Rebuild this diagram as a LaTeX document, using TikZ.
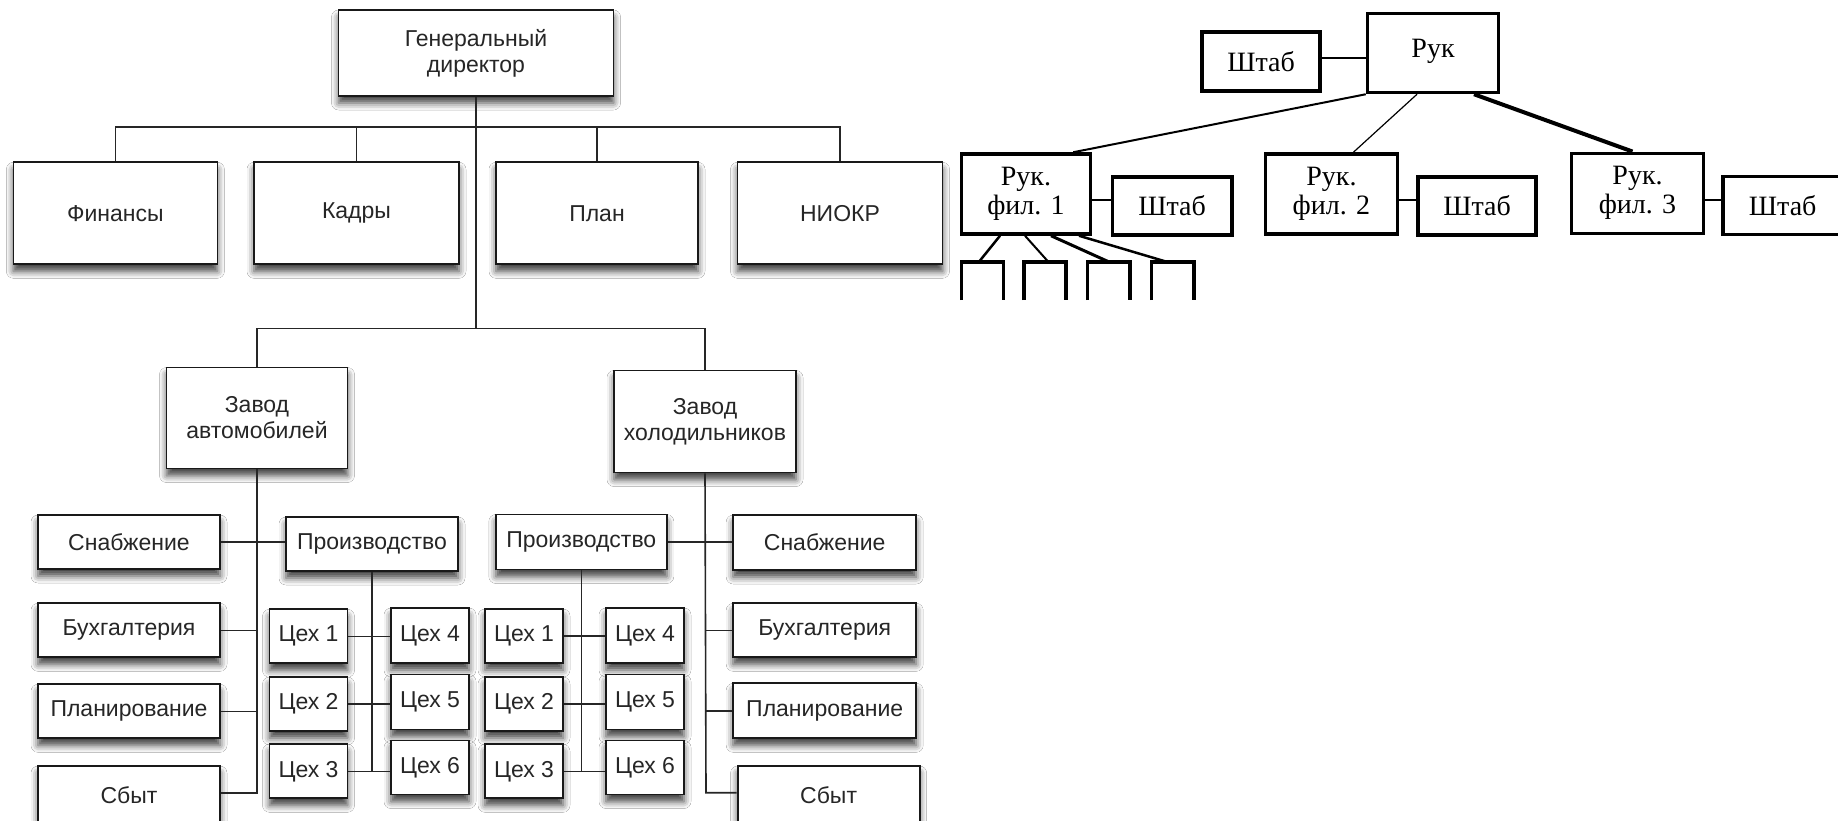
\documentclass[tikz,border=0pt]{standalone}
\usepackage{fontspec}
\newfontfamily\chartsans{Liberation Sans}
\newfontfamily\chartserif{Liberation Serif}
\usetikzlibrary{shadows.blur}
\begin{document}
\begin{tikzpicture}[x=1pt,y=-1pt,
  size/.style 2 args={minimum width=#1pt, minimum height=#2pt},
  unit/.style={draw=black!90, line width=1.8pt, fill=white, inner sep=0pt,
    align=center, text=black!85,
    font=\chartsans\fontsize{23}{26}\selectfont,
    blur shadow={shadow xshift=0pt, shadow yshift=-7pt,
      shadow blur radius=7pt, shadow opacity=75}},
  link/.style={draw=black!85, line width=1.6pt},
  rbox/.style={draw=black, line width=3.5pt, fill=white, inner sep=0pt,
    align=center, font=\chartserif\fontsize{28}{29}\selectfont},
  rlink/.style={draw=black, line width=2pt},
  cell/.style={inner sep=0pt, minimum width=42pt, minimum height=38pt},
]
\useasboundingbox (0,0) rectangle (1838,821);
\fill[white] (0,0) rectangle (1838,821);

% ---------- divisional structure ----------
\node[unit, size={275}{86}] (gd) at (476,53) {Генеральный\\директор};

\node[unit, size={204}{102}] (fin) at (115.4,213.3) {Финансы};
\node[unit, size={205}{102}] (kad) at (356.5,213.3) {Кадры};
\node[unit, size={202}{102}] (pln) at (597,213.3) {План};
\node[unit, size={205}{102}] (nio) at (840,213.3) {НИОКР};

\node[unit, size={181}{101}] (za) at (257,418) {Завод\\автомобилей};
\node[unit, size={182}{102}] (zh) at (705,421.5) {Завод\\холодильников};

% car plant
\node[unit, size={182}{54}] (snL) at (129,542) {Снабжение};
\node[unit, size={182}{54}] (buL) at (129,630.3) {Бухгалтерия};
\node[unit, size={182}{54}] (plL) at (129,711.3) {Планирование};
\node[unit, size={182}{59}] (sbL) at (129,795.5) {Сбыт};
\node[unit, size={172}{54}] (prL) at (372,544) {Производство};
\node[unit, size={78}{54}] (c1L) at (308.5,636.3) {Цех 1};
\node[unit, size={78}{54}] (c2L) at (308.5,704) {Цех 2};
\node[unit, size={78}{54}] (c3L) at (308.5,771.3) {Цех 3};
\node[unit, size={78}{55}] (c4L) at (430,635.5) {Цех 4};
\node[unit, size={78}{55}] (c5L) at (430,702) {Цех 5};
\node[unit, size={78}{54}] (c6L) at (430,767.5) {Цех 6};

% refrigerator plant
\node[unit, size={171}{55}] (prR) at (581.3,542) {Производство};
\node[unit, size={78}{54}] (c1R) at (524,636) {Цех 1};
\node[unit, size={78}{54}] (c2R) at (524,704) {Цех 2};
\node[unit, size={78}{54}] (c3R) at (524,771.3) {Цех 3};
\node[unit, size={78}{55}] (c4R) at (645,635.5) {Цех 4};
\node[unit, size={78}{55}] (c5R) at (645,702) {Цех 5};
\node[unit, size={78}{54}] (c6R) at (645,767.5) {Цех 6};
\node[unit, size={183}{55}] (snR) at (824.7,542.5) {Снабжение};
\node[unit, size={183}{54}] (buR) at (824.7,630.3) {Бухгалтерия};
\node[unit, size={183}{55}] (plR) at (824.7,710.8) {Планирование};
\node[unit, size={182}{59}] (sbR) at (828.6,795.5) {Сбыт};

% connectors
\coordinate (bar1) at (476,127.3);
\coordinate (bar2) at (476,328.3);
\coordinate (tL) at (257,792.7);
\coordinate (tR) at (706,792.7);
\draw[link] (gd.south) -- (bar2);
\draw[link] (fin.north) |- (bar1) -| (nio.north);
\draw[link] (kad.north) -- (kad.north |- bar1);
\draw[link] (pln.north) -- (pln.north |- bar1);
\draw[link] (za.north) |- (bar2) -| (zh.north);

\draw[link] (za.south) -- (tL) -- (tL -| sbL.east);
\draw[link] (snL.east) -- (snL.east -| prL.west);
\draw[link] (buL.east) -- (buL.east -| tL);
\draw[link] (plL.east) -- (plL.east -| tL);
\draw[link] (prL.south) -- (prL.south |- c3L.east);
\draw[link] (c1L.east) -- (c1L.east -| c4L.west);
\draw[link] (c2L.east) -- (c2L.east -| c5L.west);
\draw[link] (c3L.east) -- (c3L.east -| c6L.west);

\draw[link] (zh.south) -- (tR) -- (tR -| sbR.west);
\draw[link] (prR.east) -- (prR.east -| snR.west);
\draw[link] (buR.west) -- (buR.west -| tR);
\draw[link] (plR.west) -- (plR.west -| tR);
\draw[link] (prR.south) -- (prR.south |- c3R.east);
\draw[link] (c1R.east) -- (c1R.east -| c4R.west);
\draw[link] (c2R.east) -- (c2R.east -| c5R.west);
\draw[link] (c3R.east) -- (c3R.east -| c6R.west);

% ---------- line-and-staff structure ----------
\node[rbox, size={118}{59}] (s0) at (1261,61.3) {Штаб};
\node[rbox, size={131}{79}] (ruk) at (1433,53) {\raisebox{9pt}{Рук}};
\node[rbox, size={129}{80}] (f1) at (1026,194) {Рук.\\фил. 1};
\node[rbox, size={119.5}{58}] (s1) at (1172,206) {Штаб};
\node[rbox, size={132}{80}] (f2) at (1331.4,194) {Рук.\\фил. 2};
\node[rbox, size={118}{58}] (s2) at (1477,206) {Штаб};
\node[rbox, size={131.6}{80}] (f3) at (1637.5,193.3) {Рук.\\фил. 3};
\node[rbox, size={119}{58}] (s3) at (1782.7,205.5) {Штаб};

\node[cell] (u1) at (982.5,281) {};
\node[cell] (u2) at (1045,281) {};
\node[cell] (u3) at (1108.7,281) {};
\node[cell] (u4) at (1172.7,281) {};
\foreach \u in {u1,u2,u3,u4}
  \draw[line width=3.5pt] (\u.south west) |- (\u.north east) -- (\u.south east);

\coordinate (h0) at (0,58.3);
\coordinate (h1) at (0,200);
\draw[rlink] (s0.east |- h0) -- (ruk.west |- h0);
\draw[rlink] (f1.east |- h1) -- (s1.west |- h1);
\draw[rlink] (f2.east |- h1) -- (s2.west |- h1);
\draw[rlink] (f3.east |- h1) -- (s3.west |- h1);

\draw[black, line width=2pt] (ruk.south west) -- ([xshift=-19pt]f1.north east);
\draw[black, line width=1.2pt] ([xshift=-16pt]ruk.south) -- ([xshift=22pt]f2.north);
\draw[black, line width=4pt] ([xshift=41pt]ruk.south) -- ([xshift=-5pt]f3.north);

\draw[black, line width=2.5pt] ([xshift=-26pt]f1.south) -- ([xshift=-3.5pt]u1.north);
\draw[black, line width=2pt] ([xshift=-1pt]f1.south) -- ([xshift=3.3pt]u2.north);
\draw[black, line width=3pt] ([xshift=25pt]f1.south) -- (u3.north);
\draw[black, line width=2.5pt] ([xshift=53pt]f1.south) -- ([xshift=-6pt]u4.north);
\end{tikzpicture}
\end{document}
